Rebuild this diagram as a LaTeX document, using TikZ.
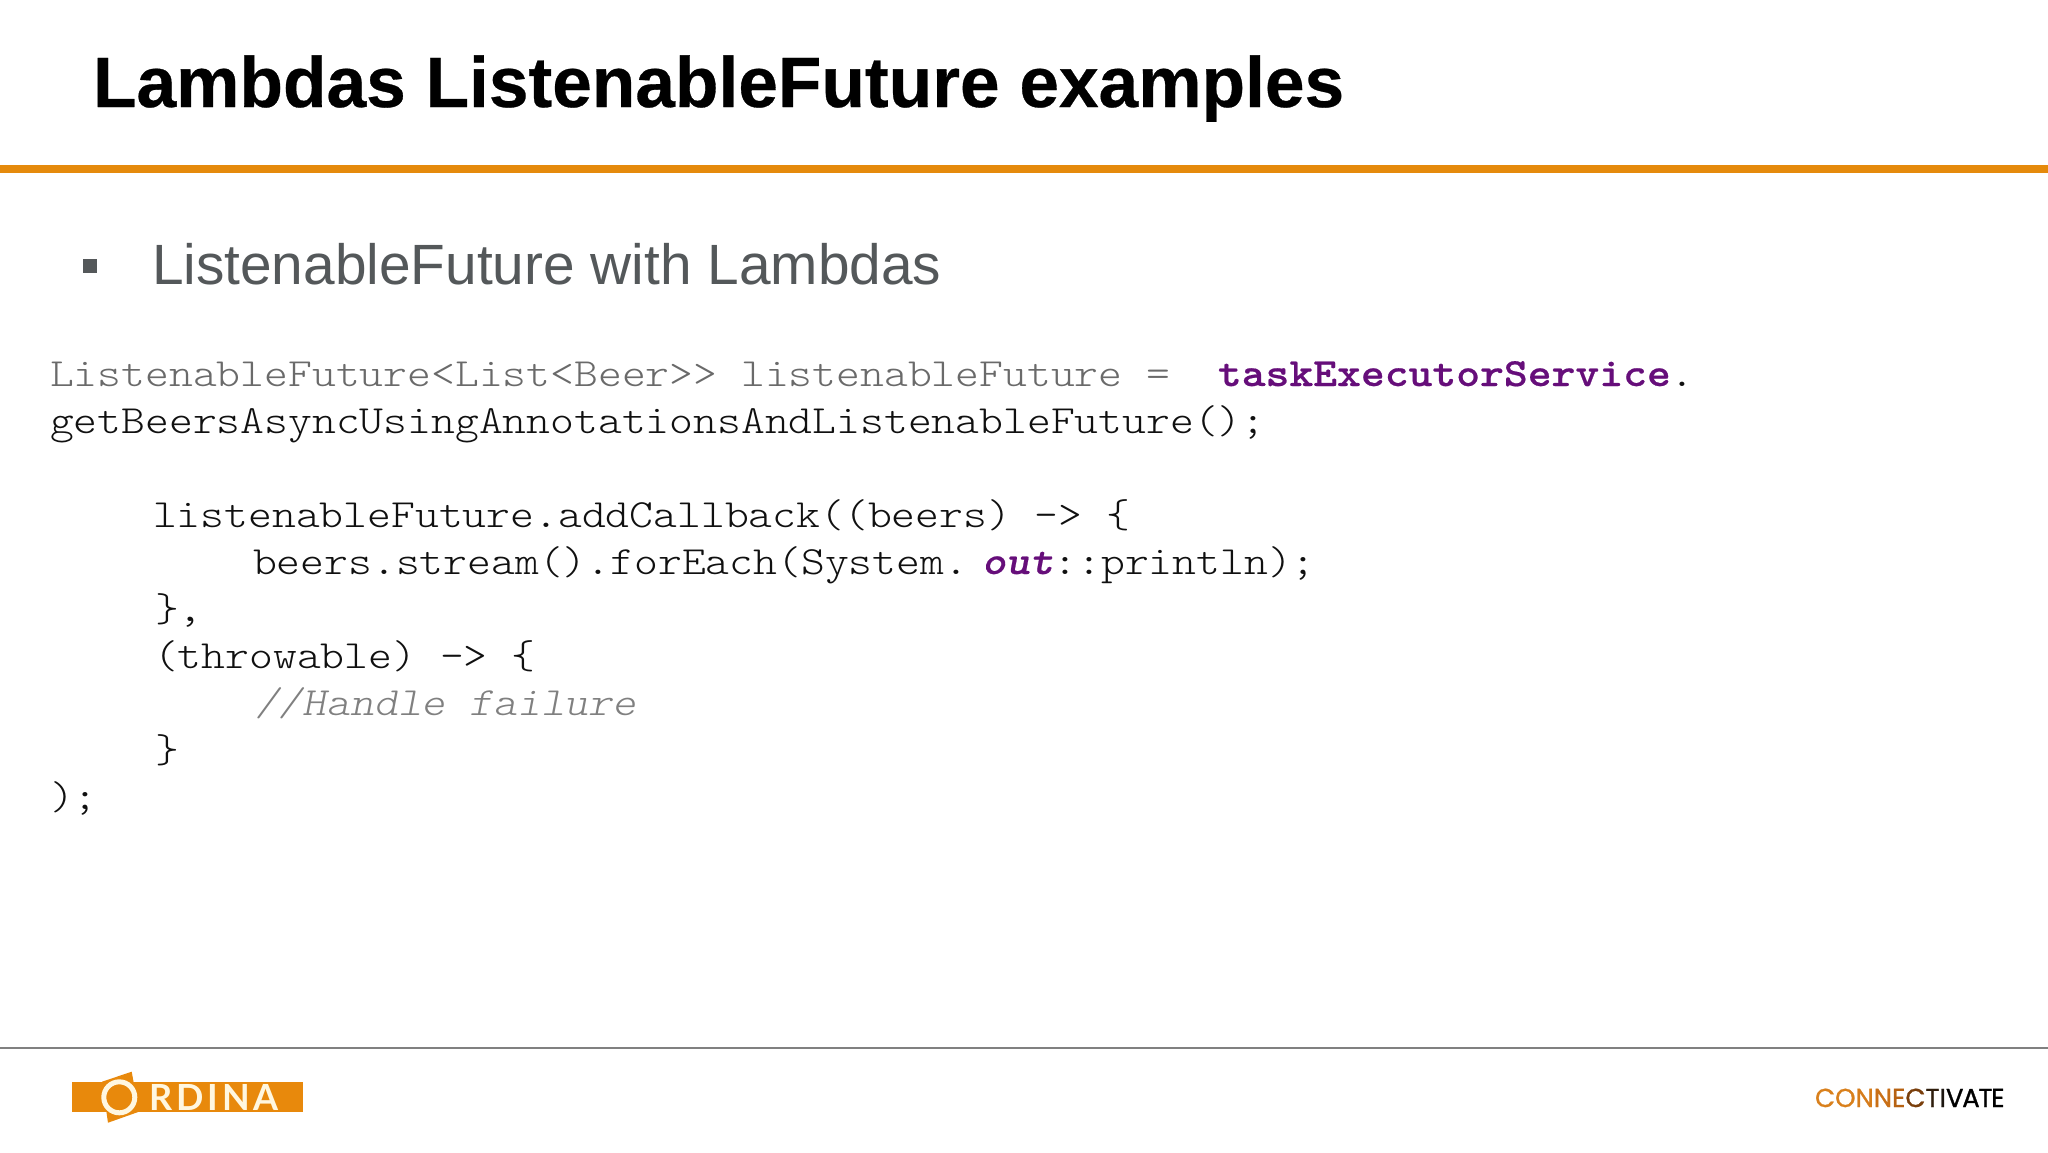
\documentclass[tikz,border=0pt]{standalone}
\usepackage{fontspec}
\setmainfont{Liberation Sans}
\newfontfamily\codefont[FakeStretch=1.135]{Latin Modern Mono Light}
\newfontfamily\logofont{Lato}
\newfontfamily\brandfont{Poppins}
\definecolor{orangebar}{HTML}{E58A0C}
\definecolor{logoorange}{HTML}{E8890C}
\definecolor{logocream}{HTML}{FFF7E0}
\definecolor{subgray}{HTML}{54585A}
\definecolor{kwpurple}{HTML}{660E7A}
\definecolor{codegray}{HTML}{808080}
\definecolor{declgray}{HTML}{6A6A6A}
\definecolor{rulegray}{HTML}{808080}
\definecolor{codeblack}{HTML}{101010}
\definecolor{c1}{HTML}{D9801C}
\definecolor{c2}{HTML}{D67C1A}
\definecolor{c3}{HTML}{C96F16}
\definecolor{c4}{HTML}{B76212}
\definecolor{c6}{HTML}{7A3F0C}
\definecolor{c8}{HTML}{2E1D0C}
\definecolor{c9}{HTML}{1C1610}
\tikzset{
  txt/.style={inner sep=0pt,outer sep=0pt,anchor=base west},
  codeline/.style={txt,font=\codefont\fontsize{40}{47}\selectfont,text=codeblack},
}
\begin{document}
\begin{tikzpicture}[x=1pt,y=-1pt]
\useasboundingbox (0,0) rectangle (2048,1152);
\fill[white] (0,0) rectangle (2048,1152);
% title and rule
\node[txt,font=\bfseries\fontsize{71.25}{70}\selectfont,text=black] (title) at (93,107) {\addfontfeature{FakeBold=0.4}Lambdas ListenableFuture examples};
\fill[orangebar] (0,165) rectangle (2048,173);
% bullet
\fill[subgray] (83,259) rectangle (97,273);
\node[txt,font=\fontsize{56.8}{54}\selectfont,text=subgray] (sub) at (152,284.5) {ListenableFuture with Lambdas};
% code
\node[codeline] (l1) at (50,386) {\textcolor{declgray}{ListenableFuture<List<Beer>> listenableFuture =~~}\textcolor{kwpurple}{\bfseries\addfontfeature{FakeBold=0.5}taskExecutorService}.};
\node[codeline] (l2) at (50,433) {getBeersAsyncUsingAnnotationsAndListenableFuture();};
\node[codeline] (l3) at (153,527) {listenableFuture.addCallback((beers) -> \{};
\node[codeline] (l4) at (253,574) {beers.stream().forEach(System.\hspace{14pt}\textcolor{kwpurple}{\bfseries\itshape\addfontfeature{FakeBold=0.5}out}::println);};
\node[codeline] (l5) at (155,621) {\},};
\node[codeline] (l6) at (154,668) {(throwable) -> \{};
\node[codeline,text=codegray,font=\codefont\itshape\fontsize{40}{47}\selectfont] (l7) at (255,715) {//Handle failure};
\node[codeline] (l8) at (155,762) {\}};
\node[codeline] (l9) at (50,809) {);};
% footer rule
\fill[rulegray] (0,1047) rectangle (2048,1049);
% Ordina logo
\fill[logoorange] (72,1082) rectangle (303,1112);
\fill[logoorange] (131.7,1071.7) -- (102,1081.7) -- (108,1122.7) -- (139,1111.7) -- cycle;
\draw[logocream,line width=5pt] (119.3,1097.3) circle[radius=15.5];
\node[txt,font=\logofont\bfseries\fontsize{36}{36}\selectfont,text=logocream] (ordina) at (149,1110) {\addfontfeature{LetterSpace=11}RDINA};
% Connectivate logo
\node[txt,font=\brandfont\fontsize{26}{26}\selectfont] (brand) at (1815,1107) {\addfontfeature{LetterSpace=-5,FakeBold=1}\textcolor{c1}{C}\textcolor{c1}{O}\textcolor{c2}{N}\textcolor{c3}{N}\textcolor{c4}{E}\textcolor{c6}{C}\textcolor{c8}{T}\textcolor{c9}{I}\textcolor{black}{VATE}};
\end{tikzpicture}
\end{document}
